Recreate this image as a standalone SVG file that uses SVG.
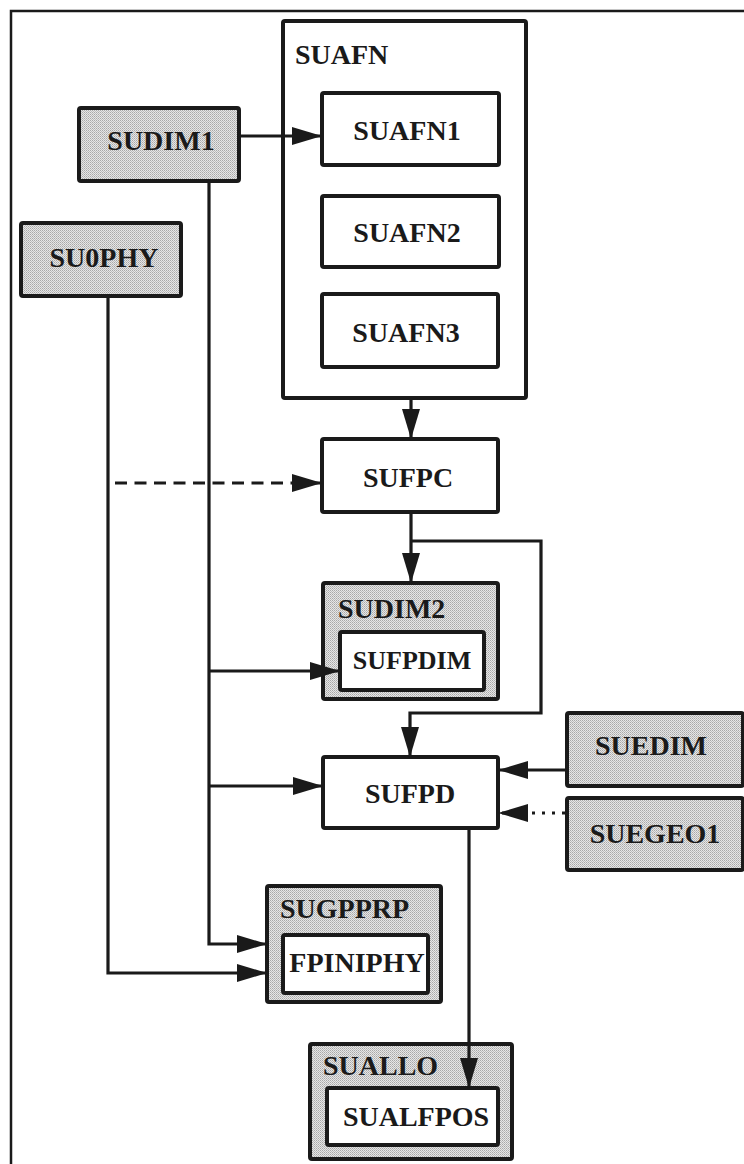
<svg xmlns="http://www.w3.org/2000/svg" width="744" height="1164" viewBox="0 0 744 1164">
<style>
.box{fill:#fff;stroke:#1a1a1a;stroke-width:4;stroke-linejoin:round}
.shade{fill:url(#dots);stroke:#1a1a1a;stroke-width:4;stroke-linejoin:round}
.t{font-family:"Liberation Serif","Times New Roman",serif;font-weight:bold;font-size:28px;fill:#1a1a1a}
.m{text-anchor:middle}
.s{font-size:26px}
.c{fill:none;stroke:#1a1a1a;stroke-width:3.2}
</style>
<defs>
<pattern id="dots" width="2" height="2" patternUnits="userSpaceOnUse">
<rect width="2" height="2" fill="#e6e6e6"/>
<rect width="1" height="1" fill="#a8a8a8"/>
<rect x="1" y="1" width="1" height="1" fill="#bdbdbd"/>
</pattern>
<marker id="ar" viewBox="0 0 30 18" markerUnits="userSpaceOnUse" markerWidth="30" markerHeight="18" refX="30" refY="9" orient="auto">
<path d="M0,0 L30,9 L0,18 Z" fill="#1a1a1a"/>
</marker>
</defs>
<rect width="744" height="1164" fill="#fff"/>
<path d="M11,1164 V11 H744" fill="none" stroke="#1a1a1a" stroke-width="2.5"/>

<g id="SUAFN">
<rect class="box" x="283" y="21" width="243" height="377" rx="2"/>
<text class="t" x="295" y="64">SUAFN</text>
</g>
<g id="SUAFN1">
<rect class="box" x="322" y="93" width="177" height="72" rx="2"/>
<text class="t m" x="407" y="140">SUAFN1</text>
</g>
<g id="SUAFN2">
<rect class="box" x="322" y="196" width="177" height="71" rx="2"/>
<text class="t m" x="407" y="242">SUAFN2</text>
</g>
<g id="SUAFN3">
<rect class="box" x="322" y="294" width="176" height="73" rx="2"/>
<text class="t m" x="406" y="342">SUAFN3</text>
</g>
<g id="SUDIM1">
<rect class="shade" x="79" y="108" width="160" height="73" rx="2"/>
<text class="t m" x="161" y="150">SUDIM1</text>
</g>
<g id="SU0PHY">
<rect class="shade" x="21" y="223" width="160" height="73" rx="2"/>
<text class="t m" x="104" y="267">SU0PHY</text>
</g>
<g id="SUFPC">
<rect class="box" x="322" y="439" width="176" height="73" rx="2"/>
<text class="t m" x="408" y="487">SUFPC</text>
</g>
<g id="SUDIM2">
<rect class="shade" x="323" y="583" width="175" height="116" rx="2"/>
<text class="t" x="338" y="618">SUDIM2</text>
</g>
<g id="SUFPDIM">
<rect class="box" x="340" y="632" width="144" height="58" rx="2"/>
<text class="t m s" x="412" y="669">SUFPDIM</text>
</g>
<g id="SUFPD">
<rect class="box" x="323" y="757" width="175" height="71" rx="2"/>
<text class="t m" x="410" y="803">SUFPD</text>
</g>
<g id="SUEDIM">
<rect class="shade" x="567" y="713" width="176" height="73" rx="2"/>
<text class="t m" x="651" y="755">SUEDIM</text>
</g>
<g id="SUEGEO1">
<rect class="shade" x="567" y="798" width="176" height="72" rx="2"/>
<text class="t m" x="655" y="843">SUEGEO1</text>
</g>
<g id="SUGPPRP">
<rect class="shade" x="267" y="886" width="174" height="116" rx="2"/>
<text class="t" x="280" y="918">SUGPPRP</text>
</g>
<g id="FPINIPHY">
<rect class="box" x="283" y="935" width="145" height="58" rx="2"/>
<text class="t m" x="357" y="972" font-size="25px">FPINIPHY</text>
</g>
<g id="SUALLO">
<rect class="shade" x="310" y="1044" width="202" height="115" rx="2"/>
<text class="t" x="323" y="1075">SUALLO</text>
</g>
<g id="SUALFPOS">
<rect class="box" x="327" y="1088" width="171" height="57" rx="2"/>
<text class="t m" x="416" y="1126">SUALFPOS</text>
</g>

<g id="connectors">
<path class="c" d="M241,136 H322" marker-end="url(#ar)"/>
<path class="c" d="M209,183 V944 H267" marker-end="url(#ar)"/>
<path class="c" d="M209,671 H340" marker-end="url(#ar)"/>
<path class="c" d="M209,786 H323" marker-end="url(#ar)"/>
<path class="c" d="M108,298 V973 H267" marker-end="url(#ar)"/>
<path class="c" d="M115,483 H322" stroke-dasharray="12 7.5" marker-end="url(#ar)"/>
<path class="c" d="M411,400 V439" marker-end="url(#ar)"/>
<path class="c" d="M411,514 V583" marker-end="url(#ar)"/>
<path class="c" d="M411,541 H541 V713 H410 V757" marker-end="url(#ar)"/>
<path class="c" d="M565,770 H498" marker-end="url(#ar)"/>
<path class="c" d="M565,813 H498" stroke-dasharray="3 7" marker-end="url(#ar)"/>
<path class="c" d="M469,830 V1088" marker-end="url(#ar)"/>
</g>
</svg>
